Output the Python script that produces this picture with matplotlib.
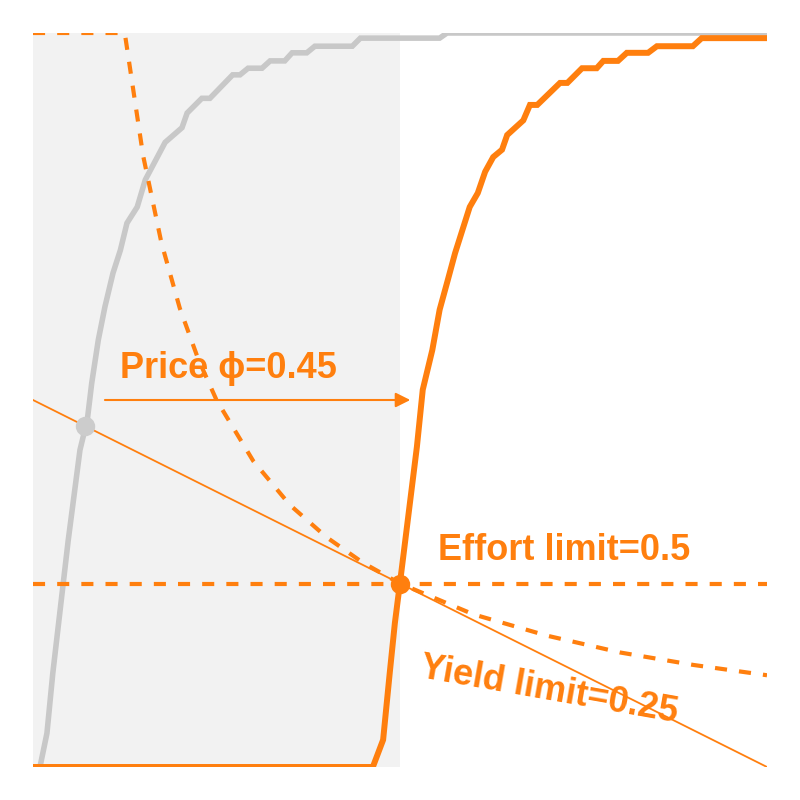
import matplotlib
matplotlib.use("Agg")
import matplotlib.pyplot as plt

plt.rcParams['font.family'] = ['Liberation Sans', 'DejaVu Sans']

ORANGE = '#ff7f0e'
GRAY = '#c8c8c8'

# before price shift (gray)
gray_x = [0.0095, 0.019, 0.027, 0.048, 0.064, 0.074, 0.080, 0.089, 0.098, 0.109,
          0.119, 0.128, 0.142, 0.153, 0.180, 0.203, 0.210, 0.230, 0.241, 0.272,
          0.282, 0.293, 0.312, 0.323, 0.343, 0.353, 0.373, 0.384, 0.435, 0.446,
          0.554, 0.564, 1.0]
gray_y = [0.0, 0.046, 0.128, 0.309, 0.432, 0.473, 0.523, 0.582, 0.627, 0.673,
          0.704, 0.741, 0.763, 0.800, 0.851, 0.871, 0.891, 0.911, 0.911, 0.943,
          0.943, 0.952, 0.952, 0.962, 0.962, 0.973, 0.973, 0.982, 0.982, 0.993,
          0.993, 1.0, 1.0]

# after price shift (orange)
orange_x = [0.0, 0.463, 0.477, 0.486, 0.493, 0.500, 0.523, 0.531, 0.544, 0.554,
            0.565, 0.575, 0.595, 0.606, 0.616, 0.627, 0.639, 0.646, 0.668, 0.677,
            0.687, 0.718, 0.728, 0.748, 0.768, 0.777, 0.797, 0.809, 0.838, 0.850,
            0.899, 0.911, 1.0]
orange_y = [0.0, 0.0, 0.037, 0.128, 0.196, 0.251, 0.436, 0.514, 0.568, 0.623,
            0.663, 0.700, 0.763, 0.782, 0.811, 0.831, 0.841, 0.861, 0.881, 0.902,
            0.902, 0.932, 0.932, 0.952, 0.952, 0.962, 0.962, 0.973, 0.973, 0.982,
            0.982, 0.993, 0.993]

# effort limit curve (dashed)
effort_x = [0.0, 0.125, 0.15, 0.175, 0.2, 0.225, 0.25, 0.3, 0.35, 0.4, 0.45, 0.5,
            0.6, 0.7, 0.8, 0.9, 1.0]
effort_y = [1.0, 1.0, 0.833, 0.714, 0.625, 0.556, 0.5, 0.417, 0.357, 0.313, 0.278,
            0.25, 0.208, 0.179, 0.156, 0.139, 0.125]

# yield limit line
yield_x = [0.0, 1.0]
yield_y = [0.5, 0.0]

effort_level = 0.25
shade_end = 0.5
gray_pt = (0.0708, 0.4646)
orange_pt = (0.5, 0.25)

fig = plt.figure(figsize=(8, 8), dpi=100)
ax = fig.add_axes([33 / 800, 33 / 800, 734 / 800, 734 / 800])
ax.set_xlim(0, 1)
ax.set_ylim(0, 1)
ax.axis('off')

ax.axvspan(0, shade_end, color='#f2f2f2', lw=0, zorder=0)

ax.plot(gray_x, gray_y, color=GRAY, lw=4, zorder=2, solid_joinstyle='miter')
ax.plot(orange_x, orange_y, color=ORANGE, lw=4.3, zorder=3, solid_joinstyle='miter')

dash = (0, (2.9, 2.9))
ax.plot(effort_x, effort_y, color=ORANGE, lw=3, ls=dash, zorder=2)
ax.axhline(effort_level, color=ORANGE, lw=3, ls=dash, zorder=2)
ax.plot(yield_x, yield_y, color=ORANGE, lw=1.3, zorder=2)

ax.plot(*gray_pt, 'o', color='#cccccc', ms=14, mew=0, zorder=4)
ax.plot(*orange_pt, 'o', color=ORANGE, ms=14, mew=0, zorder=5)

ax.annotate('', xy=(0.514, 0.5), xytext=(0.098, 0.5),
            arrowprops=dict(arrowstyle='-|>', color=ORANGE, lw=1.5,
                            mutation_scale=22, shrinkA=0, shrinkB=0))

ax.text(0.1185, 0.53, 'Price ϕ=0.45', color=ORANGE, fontsize=26,
        fontweight='bold', ha='left', va='baseline')
ax.text(0.552, 0.282, 'Effort limit=0.5', color=ORANGE, fontsize=26,
        fontweight='bold', ha='left', va='baseline')
ax.text(0.703, 0.105, 'Yield limit=0.25', color=ORANGE, fontsize=26,
        fontweight='bold', ha='center', va='center', rotation=-10)

fig.savefig('out.png', dpi=100)
